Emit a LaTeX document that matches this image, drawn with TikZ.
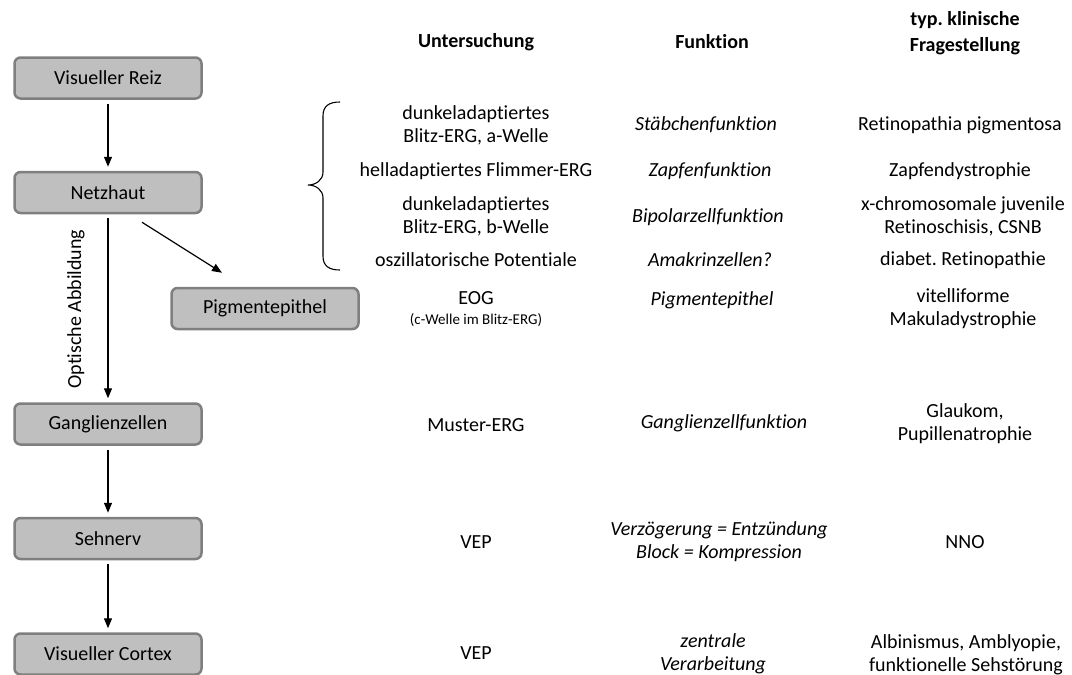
\documentclass[tikz,border=0pt]{standalone}
\usepackage{fontspec}
\setmainfont{Carlito}[Ligatures=NoCommon]
\usetikzlibrary{arrows.meta,calc}
\definecolor{boxfill}{HTML}{BFBFBF}
\definecolor{boxline}{HTML}{7F7F7F}
\frenchspacing

\begin{document}
\begin{tikzpicture}[x=1pt,y=-1pt,
  stage/.style={draw=boxline,fill=boxfill,line width=2.5pt,rounded corners=6pt,
    minimum width=187pt,minimum height=41pt,inner sep=0pt,
    font=\fontsize{20}{23}\selectfont},
  txt/.style={align=center,inner sep=0pt,font=\fontsize{20}{23}\selectfont},
  emph/.style={txt,font=\fontsize{20}{23}\selectfont\itshape},
  head/.style={txt,font=\fontsize{20}{26}\selectfont\bfseries},
  arr/.style={-{Triangle[length=10pt,width=8pt]},line width=1.2pt,
    shorten >=4pt,shorten <=4pt}]
  \useasboundingbox (0,0) rectangle (1072,675);

  % stages of the visual pathway
  \node[stage] (reiz)   at (108,78)    {Visueller Reiz};
  \node[stage] (netz)   at (108,192.5) {Netzhaut};
  \node[stage] (pig)    at (265,308.5) {Pigmentepithel};
  \node[stage] (gang)   at (108,424)   {Ganglienzellen};
  \node[stage] (sehnerv) at (108,538.5) {Sehnerv};
  \node[stage] (cortex) at (108,654)   {Visueller Cortex};

  \draw[arr] (reiz) -- (netz);
  \draw[arr] (netz) -- (gang);
  \draw[arr] (gang) -- (sehnerv);
  \draw[arr] (sehnerv) -- (cortex);
  \draw[arr,shorten <=0pt,shorten >=0pt] ($(netz.south)+(34,8)$) -- ($(pig.north)+(-43,-14)$);
  \node[txt,rotate=90] (optik) at (76,309) {Optische Abbildung};

  % brace over the retina rows
  \draw[line width=1.1pt] (340,102) .. controls (329,102) and (323,106) .. (323,116)
    -- (323,172) .. controls (323,180) and (316,185) .. (308,185)
    .. controls (316,185) and (323,190) .. (323,198)
    -- (323,256) .. controls (323,266) and (329,270) .. (340,270);

  % column heads
  \node[head] (hunt) at (476,42) {Untersuchung};
  \node[head] (hfkt) at (712,42) {Funktion};
  \node[head] (hfrag) at (965,33) {typ. klinische\\Fragestellung};

  % Untersuchung
  \node[txt] (u1) at (476,125) {dunkeladaptiertes\\Blitz-ERG, a-Welle};
  \node[txt] (u2) at (476,171) {helladaptiertes Flimmer-ERG};
  \node[txt] (u3) at (476,216) {dunkeladaptiertes\\Blitz-ERG, b-Welle};
  \node[txt] (u4) at (476,260) {oszillatorische Potentiale};
  \node[txt] (u5) at (476,298) {EOG};
  \node[txt,font=\fontsize{15}{18}\selectfont] (u5b) at (476,320) {(c-Welle im Blitz-ERG)};
  \node[txt] (u6) at (476,425) {Muster-ERG};
  \node[txt] (u7) at (476,542) {VEP};
  \node[txt] (u8) at (476,653) {VEP};

  % Funktion
  \node[emph] (f1) at (706,125) {Stäbchenfunktion};
  \node[emph] (f2) at (710,171) {Zapfenfunktion};
  \node[emph] (f3) at (708,217) {Bipolarzellfunktion};
  \node[emph] (f4) at (710,260) {Amakrinzellen?};
  \node[emph] (f5) at (712,300) {Pigmentepithel};
  \node[emph] (f6) at (724,423) {Ganglienzellfunktion};
  \node[emph] (f7) at (719,542) {Verzögerung = Entzündung\\Block = Kompression};
  \node[emph] (f8) at (713,654) {zentrale\\Verarbeitung};

  % typ. klinische Fragestellung
  \node[txt] (k1) at (960,125) {Retinopathia pigmentosa};
  \node[txt] (k2) at (960,171) {Zapfendystrophie};
  \node[txt] (k3) at (963,216) {x-chromosomale juvenile\\Retinoschisis, CSNB};
  \node[txt] (k4) at (963,260) {diabet. Retinopathie};
  \node[txt] (k5) at (963,309) {vitelliforme\\Makuladystrophie};
  \node[txt] (k6) at (965,424) {Glaukom,\\Pupillenatrophie};
  \node[txt] (k7) at (965,542) {NNO};
  \node[txt] (k8) at (966,655) {Albinismus, Amblyopie,\\funktionelle Sehstörung};
\end{tikzpicture}
\end{document}
